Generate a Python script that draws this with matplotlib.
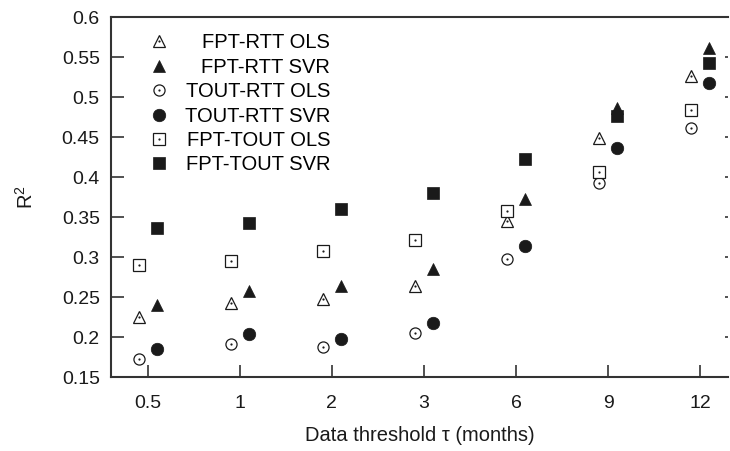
import numpy as np
import matplotlib
matplotlib.use("Agg")
import matplotlib.pyplot as plt

plt.rcParams['font.family'] = ['Liberation Sans', 'DejaVu Sans']
plt.rcParams['mathtext.default'] = 'regular'

thresholds = ["0.5", "1", "2", "3", "6", "9", "12"]
y_ticks = [0.15, 0.2, 0.25, 0.3, 0.35, 0.4, 0.45, 0.5, 0.55, 0.6]
y_ticklabels = ["0.15", "0.2", "0.25", "0.3", "0.35", "0.4", "0.45", "0.5", "0.55", "0.6"]

fpt_rtt_ols = [0.225, 0.242, 0.247, 0.264, 0.345, 0.449, 0.527]
fpt_rtt_svr = [0.240, 0.257, 0.264, 0.285, 0.373, 0.486, 0.561]
tout_rtt_ols = [0.173, 0.191, 0.188, 0.205, 0.297, 0.393, 0.462]
tout_rtt_svr = [0.185, 0.204, 0.198, 0.218, 0.314, 0.436, 0.518]
fpt_tout_ols = [0.290, 0.295, 0.307, 0.321, 0.357, 0.406, 0.484]
fpt_tout_svr = [0.336, 0.343, 0.360, 0.380, 0.422, 0.476, 0.543]

ink = '#1a1a1a'
x = np.arange(len(thresholds))
off = 0.1

fig = plt.figure(figsize=(7.3, 4.51), dpi=100)
ax = fig.add_axes([0.152, 0.164, 0.845, 0.798])

series = [
    ("FPT-RTT OLS", fpt_rtt_ols, '^', False, 8.5),
    ("FPT-RTT SVR", fpt_rtt_svr, '^', True, 9),
    ("TOUT-RTT OLS", tout_rtt_ols, 'o', False, 8),
    ("TOUT-RTT SVR", tout_rtt_svr, 'o', True, 9),
    ("FPT-TOUT OLS", fpt_tout_ols, 's', False, 8),
    ("FPT-TOUT SVR", fpt_tout_svr, 's', True, 9),
]

handles = []
labels = []
for name, vals, m, filled, ms in series:
    xs = x + (off if filled else -off)
    if filled:
        h, = ax.plot(xs, vals, linestyle='none', marker=m, markersize=ms,
                     markerfacecolor=ink, markeredgecolor=ink, markeredgewidth=0.5)
        handles.append(h)
    else:
        h, = ax.plot(xs, vals, linestyle='none', marker=m, markersize=ms,
                     markerfacecolor='white', markeredgecolor=ink, markeredgewidth=0.9)
        d, = ax.plot(xs, vals, linestyle='none', marker='o', markersize=1.6,
                     markerfacecolor=ink, markeredgecolor=ink, markeredgewidth=0)
        handles.append((h, d))
    labels.append(name)

ax.set_xlim(-0.4, 6.3)
ax.set_ylim(0.15, 0.6)
ax.set_xticks(x)
ax.set_xticklabels(thresholds)
ax.set_yticks(y_ticks)
ax.set_yticklabels(y_ticklabels)

for s in ['left', 'bottom', 'top']:
    ax.spines[s].set_color('#333333')
    ax.spines[s].set_linewidth(1.5)
ax.spines['right'].set_visible(False)

ax.tick_params(axis='both', direction='in', length=9, width=1.2, color='#333333',
               labelsize=14, labelcolor=ink)
ax.tick_params(axis='x', pad=13)
ax.tick_params(axis='y', pad=8, right=True)
for t in ax.yaxis.get_major_ticks():
    t.tick2line.set_markersize(2)
    t.tick2line.set_color('#999999')

ax.set_xlabel("Data threshold τ (months)", fontsize=14.5, color=ink, labelpad=10)
ax.set_ylabel("R$^2$", fontsize=14.5, color=ink, labelpad=18)

leg = ax.legend(handles, labels, loc='upper left', frameon=False, fontsize=14.5,
                bbox_to_anchor=(0.033, 1.0), handlelength=1.1, handletextpad=0.95,
                labelspacing=0.27, borderaxespad=0.4)
# right-align the legend texts
fig.canvas.draw()
renderer = fig.canvas.get_renderer()
widths = [t.get_window_extent(renderer).width for t in leg.get_texts()]
maxw = max(widths)
for t, w in zip(leg.get_texts(), widths):
    t.set_position((maxw - w - 4, 0))

fig.savefig("out.png", dpi=100)
